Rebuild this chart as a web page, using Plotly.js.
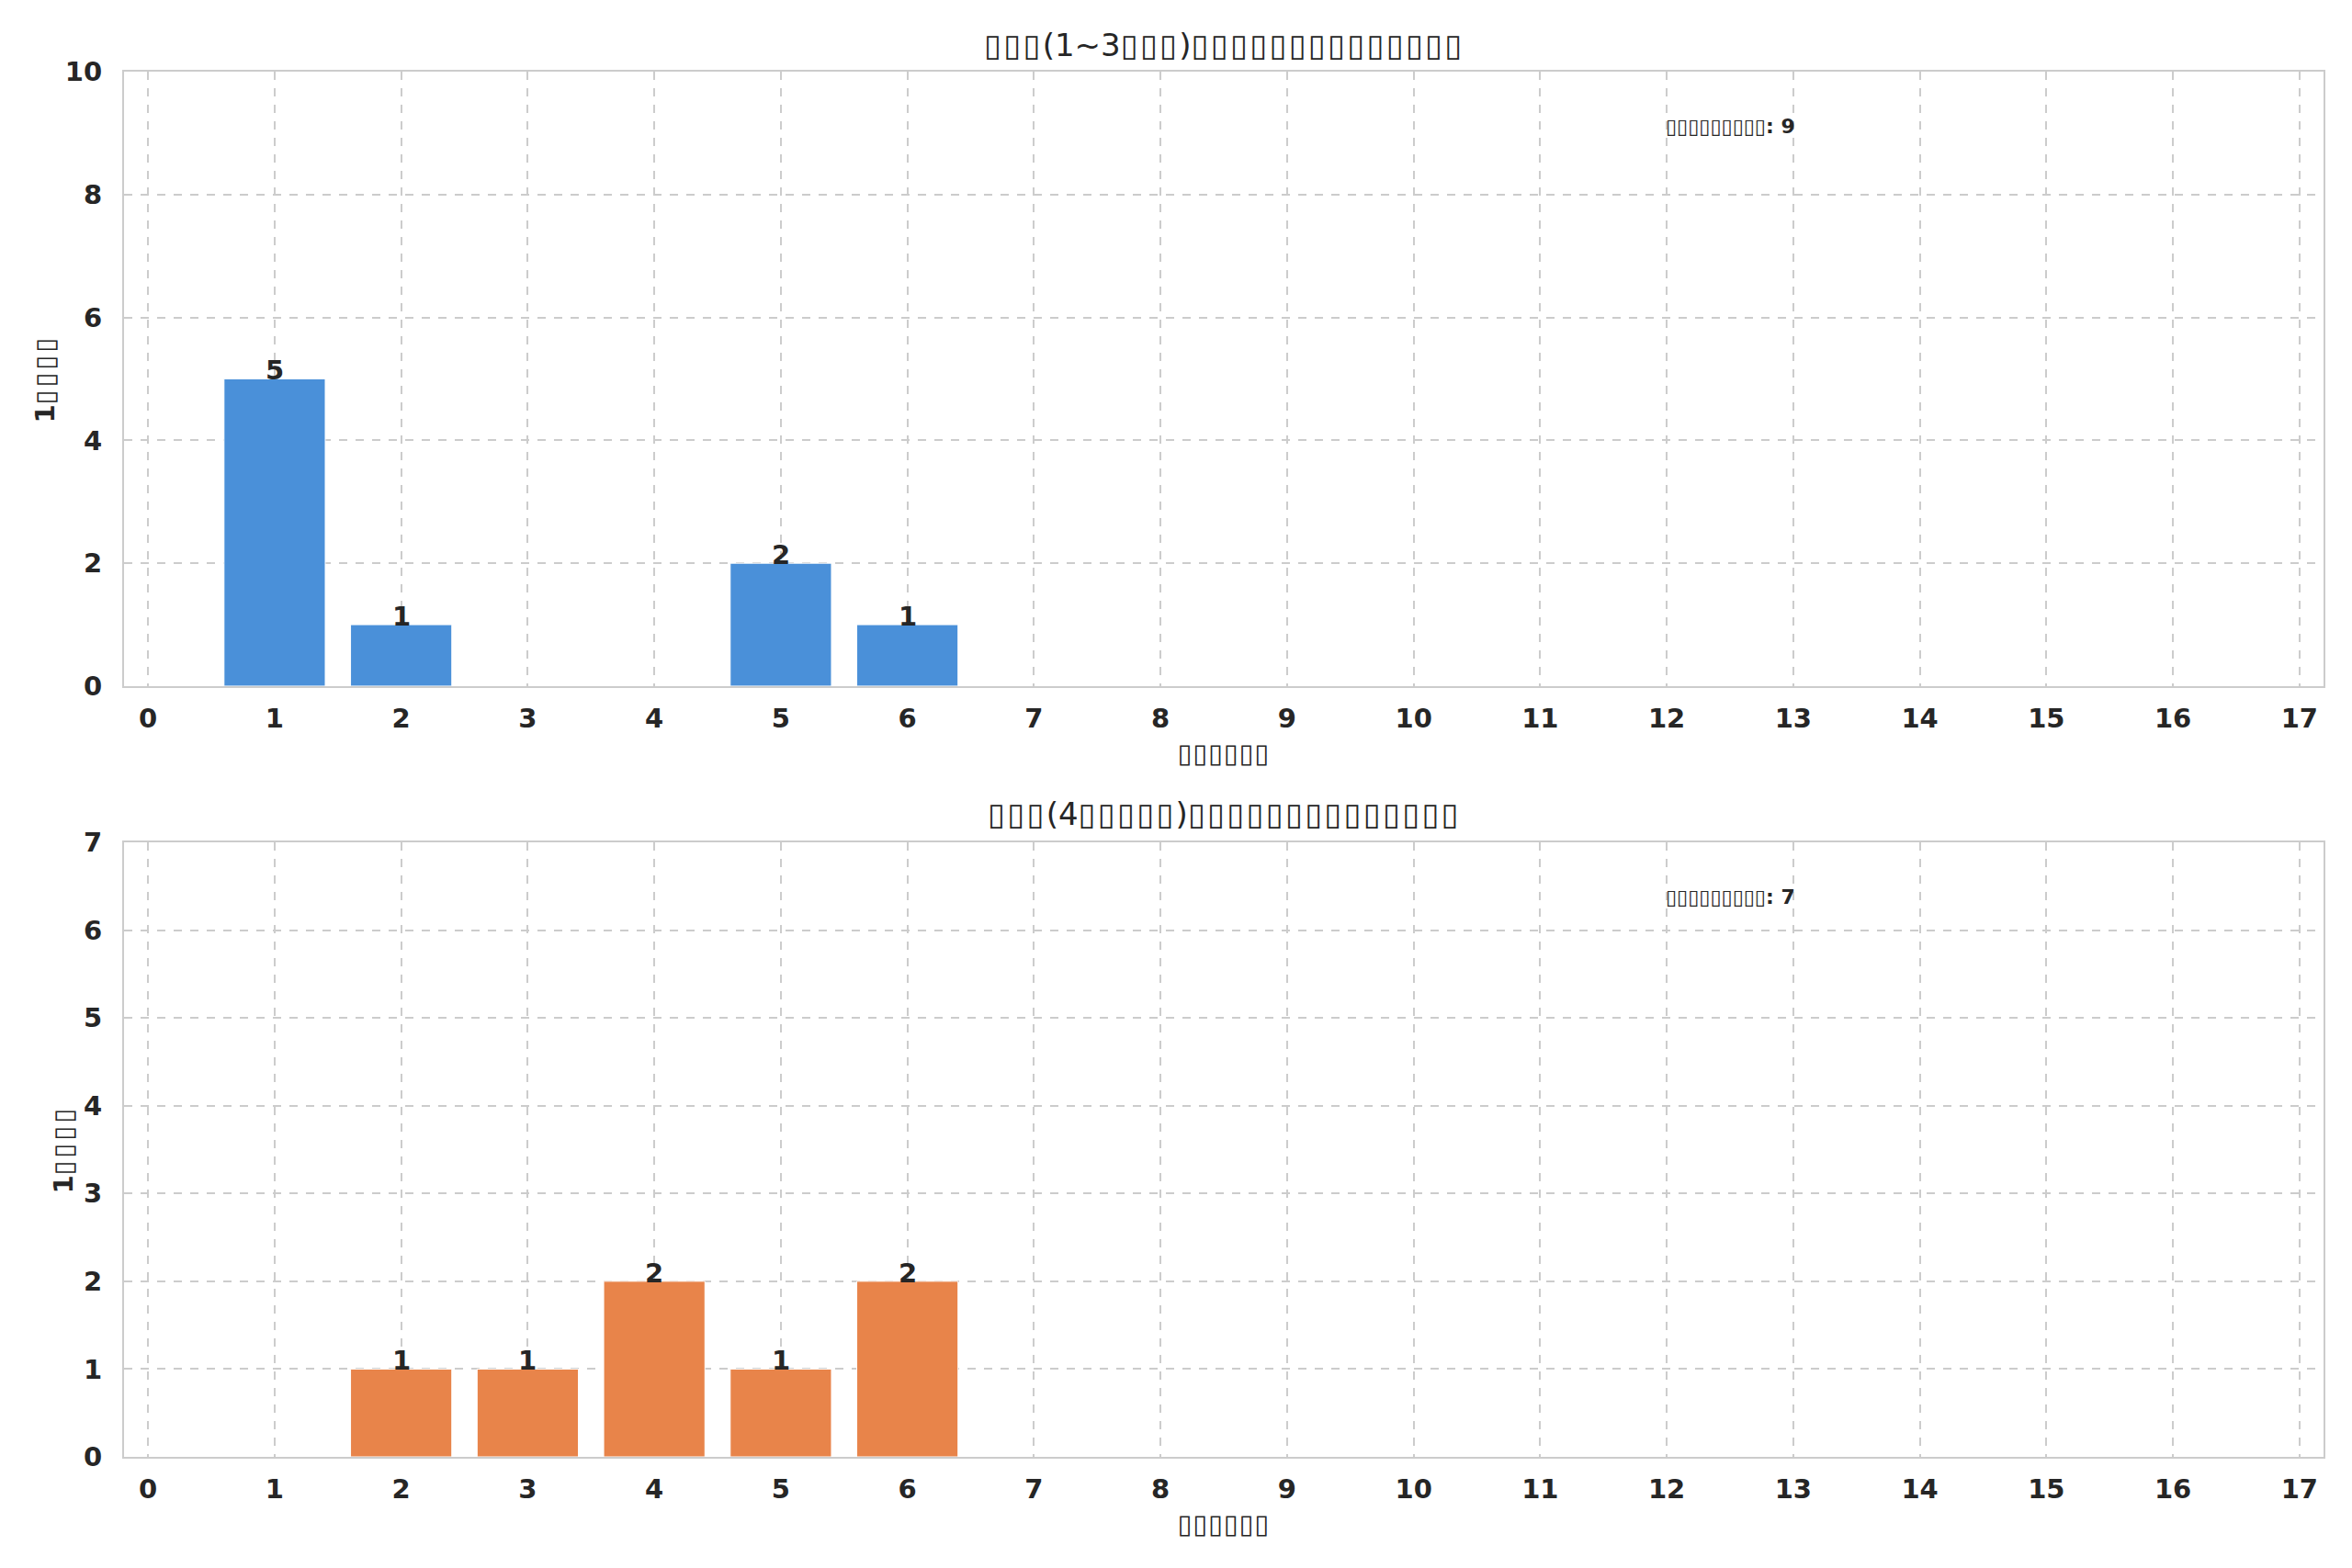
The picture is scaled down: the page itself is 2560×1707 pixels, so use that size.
<!DOCTYPE html>
<html>
<head>
<meta charset="utf-8">
<script src="https://cdn.plot.ly/plotly-3.0.1.min.js"></script>
<style>html,body{margin:0;padding:0;background:#fff;}#chart{width:2560px;height:1707px;}</style>
</head>
<body>
<div id="chart"></div>
<script>
// Data (text rendered in the source as missing-glyph boxes)
const xCategories = [0,1,2,3,4,5,6,7,8,9,10,11,12,13,14,15,16,17];
const groupA_x = [1, 2, 5, 6];
const groupA_y = [5, 1, 2, 1];
const groupB_x = [2, 3, 4, 5, 6];
const groupB_y = [1, 1, 2, 1, 2];
const titleA = "▯▯▯(1~3▯▯▯)▯▯▯▯▯▯▯▯▯▯▯▯▯▯";
const titleB = "▯▯▯(4▯▯▯▯▯)▯▯▯▯▯▯▯▯▯▯▯▯▯▯";
const xLabel = "▯▯▯▯▯▯";
const yLabel = "1▯▯▯▯";
const totalLabel = "▯▯▯▯▯▯▯▯▯";
const yTicksA = [0, 2, 4, 6, 8, 10];
const yTicksB = [0, 1, 2, 3, 4, 5, 6, 7];

const FONT = "DejaVu Sans";
const DARK = "#262626";
const GRID = "#cccccc";

// widen runs of box glyphs slightly (letter spacing only, text unchanged)
function spaced(str, px) {
  return str.replace(/(▯+)/g, '<span style="letter-spacing:' + px + 'px">$1</span>');
}

function xAxis(anchor) {
  return {
    anchor: anchor, range: [-0.19, 17.19], tickvals: xCategories, ticktext: xCategories.map(String),
    showgrid: true, gridcolor: GRID, griddash: "dash", gridwidth: 2,
    showline: true, linecolor: GRID, linewidth: 2, mirror: true, zeroline: false,
    ticks: "", ticklabelstandoff: 8,
    tickfont: {family: FONT, size: 29, color: DARK, weight: "bold"},
    title: {text: spaced(xLabel, 0.8), font: {family: FONT, size: 29, color: DARK, weight: "bold"}, standoff: 12}
  };
}
function yAxis(anchor, domain, range, ticks) {
  return {
    anchor: anchor, domain: domain, range: range, tickvals: ticks,
    showgrid: true, gridcolor: GRID, griddash: "dash", gridwidth: 2,
    showline: true, linecolor: GRID, linewidth: 2, mirror: true, zeroline: false,
    ticks: "", ticklabelstandoff: 16,
    tickfont: {family: FONT, size: 29, color: DARK, weight: "bold"},
    title: {text: spaced(yLabel, 3), font: {family: FONT, size: 29, color: DARK, weight: "bold"}, standoff: 3}
  };
}

const traces = [
  {type: "bar", x: groupA_x, y: groupA_y, width: 0.8, xaxis: "x", yaxis: "y",
   marker: {color: "#4a90d9", line: {color: "#ffffff", width: 1}}, hoverinfo: "skip"},
  {type: "bar", x: groupB_x, y: groupB_y, width: 0.8, xaxis: "x2", yaxis: "y2",
   marker: {color: "#e8844a", line: {color: "#ffffff", width: 1}}, hoverinfo: "skip"}
];

const annotations = [];
function addBarLabels(xs, ys, xr, yr) {
  xs.forEach((x, i) => annotations.push({
    x: x, y: ys[i], xref: xr, yref: yr, text: String(ys[i]), showarrow: false,
    xanchor: "center", yanchor: "bottom", yshift: -10,
    font: {family: FONT, size: 29, color: DARK, weight: "bold"}
  }));
}
addBarLabels(groupA_x, groupA_y, "x", "y");
addBarLabels(groupB_x, groupB_y, "x2", "y2");

function addTitle(text, yr, shift) {
  annotations.push({text: spaced(text, 2.5), xref: "x domain", yref: yr, x: 0.5, y: 1, xanchor: "center", yanchor: "bottom",
    yshift: shift, showarrow: false, font: {family: FONT, size: 34, color: DARK}});
}
addTitle(titleA, "y domain", 7);
addTitle(titleB, "y2 domain", 9);

function addTotal(ys, xr, yr) {
  const total = ys.reduce((a, b) => a + b, 0);
  annotations.push({text: totalLabel + ": " + total, xref: xr, yref: yr, x: 0.7, y: 0.9,
    xanchor: "left", yanchor: "bottom", yshift: -7, showarrow: false,
    font: {family: FONT, size: 22, color: DARK, weight: "bold"}});
}
addTotal(groupA_y, "x domain", "y domain");
addTotal(groupB_y, "x2 domain", "y2 domain");

const layout = {
  width: 2560, height: 1707,
  paper_bgcolor: "#ffffff", plot_bgcolor: "#ffffff",
  margin: {l: 135, r: 31, t: 78, b: 121},
  showlegend: false,
  font: {family: FONT, color: DARK},
  xaxis: xAxis("y"),
  yaxis: yAxis("x", [0.5564, 1], [0, 10], yTicksA),
  xaxis2: xAxis("y2"),
  yaxis2: yAxis("x2", [0, 0.4436], [0, 7], yTicksB),
  annotations: annotations
};

Plotly.newPlot("chart", traces, layout, {staticPlot: true});
</script>
</body>
</html>
